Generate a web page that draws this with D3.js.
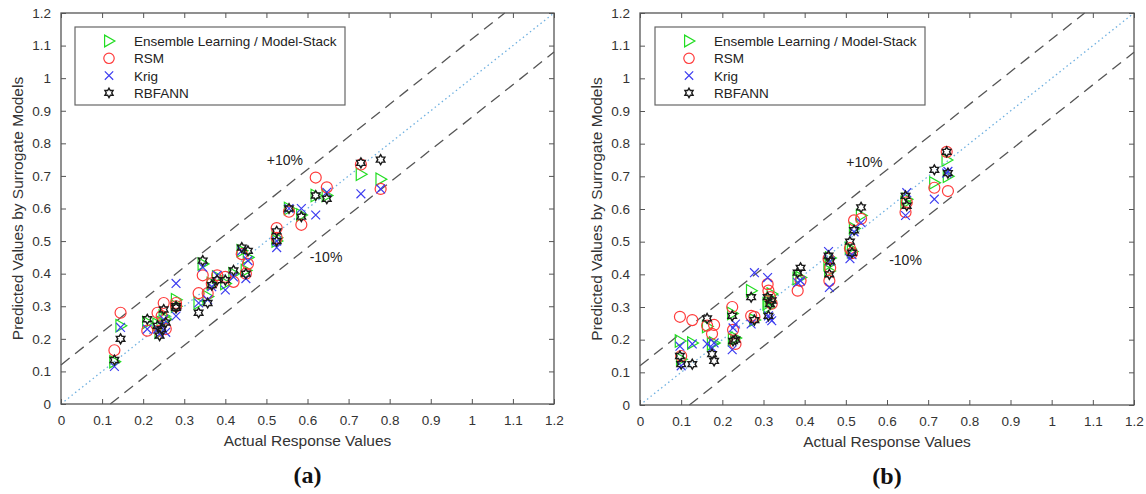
<!DOCTYPE html>
<html>
<head>
<meta charset="utf-8">
<script src="https://cdn.jsdelivr.net/npm/d3@7"></script>
<style>
  html, body { margin: 0; padding: 0; background: #fff; }
  svg { display: block; }
  text { font-family: "Liberation Sans", Arial, sans-serif; }
  text.panel-label { font-family: "Liberation Serif", "Times New Roman", serif; font-weight: bold; }
</style>
</head>
<body>
<svg id="chart" width="1146" height="494"></svg>
<script>
// ---- data: actual response values and predictions of each surrogate model ----
const actualA = [0.13, 0.145, 0.21, 0.235, 0.24, 0.245, 0.25, 0.255, 0.28, 0.28,
  0.335, 0.345, 0.357, 0.367, 0.38, 0.40, 0.42, 0.44, 0.45, 0.455,
  0.525, 0.525, 0.555, 0.585, 0.62, 0.647, 0.73, 0.778];
const ensembleA = [0.13, 0.24, 0.25, 0.245, 0.22, 0.25, 0.27, 0.26, 0.32, 0.30,
  0.31, 0.43, 0.33, 0.37, 0.39, 0.37, 0.40, 0.47, 0.41, 0.45,
  0.51, 0.50, 0.60, 0.58, 0.64, 0.64, 0.705, 0.69];
const rsmA = [0.165, 0.28, 0.225, 0.28, 0.225, 0.27, 0.31, 0.23, 0.31, 0.30,
  0.34, 0.395, 0.34, 0.37, 0.395, 0.39, 0.375, 0.46, 0.40, 0.43,
  0.54, 0.51, 0.59, 0.55, 0.695, 0.665, 0.735, 0.66];
const krigA = [0.115, 0.235, 0.23, 0.23, 0.215, 0.24, 0.26, 0.22, 0.37, 0.27,
  0.31, 0.42, 0.32, 0.36, 0.395, 0.35, 0.39, 0.47, 0.385, 0.44,
  0.48, 0.50, 0.60, 0.60, 0.58, 0.65, 0.645, 0.66];
const rbfA = [0.135, 0.20, 0.26, 0.24, 0.21, 0.23, 0.29, 0.25, 0.295, 0.30,
  0.28, 0.44, 0.31, 0.365, 0.38, 0.38, 0.41, 0.48, 0.40, 0.47,
  0.53, 0.50, 0.60, 0.575, 0.64, 0.63, 0.74, 0.75];

const actualB = [0.097, 0.10, 0.127, 0.163, 0.175, 0.18, 0.224, 0.226, 0.232, 0.27,
  0.278, 0.31, 0.312, 0.316, 0.32, 0.383, 0.39, 0.458, 0.46, 0.462,
  0.51, 0.515, 0.52, 0.537, 0.645, 0.648, 0.715, 0.745, 0.748];
const ensembleB = [0.196, 0.14, 0.19, 0.24, 0.187, 0.19, 0.28, 0.20, 0.205, 0.35,
  0.26, 0.31, 0.30, 0.32, 0.34, 0.387, 0.39, 0.43, 0.41, 0.45,
  0.48, 0.47, 0.54, 0.58, 0.62, 0.63, 0.68, 0.75, 0.70];
const rsmB = [0.27, 0.15, 0.26, 0.243, 0.218, 0.245, 0.30, 0.23, 0.187, 0.273,
  0.27, 0.37, 0.35, 0.33, 0.31, 0.35, 0.38, 0.448, 0.38, 0.42,
  0.48, 0.465, 0.565, 0.57, 0.59, 0.62, 0.665, 0.775, 0.655];
const krigB = [0.18, 0.12, 0.187, 0.187, 0.175, 0.19, 0.169, 0.236, 0.248, 0.248,
  0.405, 0.39, 0.273, 0.264, 0.258, 0.375, 0.38, 0.47, 0.36, 0.44,
  0.448, 0.46, 0.53, 0.558, 0.58, 0.65, 0.63, 0.71, 0.715];
const rbfB = [0.15, 0.125, 0.125, 0.265, 0.156, 0.135, 0.273, 0.196, 0.20, 0.33,
  0.26, 0.33, 0.273, 0.309, 0.32, 0.405, 0.42, 0.457, 0.40, 0.44,
  0.50, 0.466, 0.535, 0.605, 0.64, 0.61, 0.72, 0.775, 0.71];

const seriesNames = ["Ensemble Learning / Model-Stack", "RSM", "Krig", "RBFANN"];
const seriesColors = ["#22dd22", "#ff3b3b", "#3c3cf0", "#1a1a1a"];
const tickValues = [0, 0.1, 0.2, 0.3, 0.4, 0.5, 0.6, 0.7, 0.8, 0.9, 1, 1.1, 1.2];
const bandOffset = 0.12;   // +/-10 % of the axis range
const panelLabels = ["(a)", "(b)"];

// ---- custom symbols ----
const triangleRight = {
  draw(ctx, size) {
    const r = Math.sqrt(size) * 0.62;
    ctx.moveTo(r, 0);
    ctx.lineTo(-r * 0.75, -r);
    ctx.lineTo(-r * 0.75, r);
    ctx.closePath();
  }
};
const hexagram = {
  draw(ctx, size) {
    const R = Math.sqrt(size) * 0.55, r = R / Math.sqrt(3);
    for (let i = 0; i < 12; i++) {
      const a = -Math.PI / 2 + i * Math.PI / 6;
      const rr = i % 2 === 0 ? R : r;
      const x = rr * Math.cos(a), y = rr * Math.sin(a);
      if (i === 0) ctx.moveTo(x, y); else ctx.lineTo(x, y);
    }
    ctx.closePath();
  }
};
const cross = {
  draw(ctx, size) {
    const r = Math.sqrt(size) * 0.42;
    ctx.moveTo(-r, -r); ctx.lineTo(r, r);
    ctx.moveTo(-r, r); ctx.lineTo(r, -r);
  }
};
const symbolTypes = [triangleRight, d3.symbolCircle, cross, hexagram];
const symbolSizes = [100, 95, 110, 80];
const symbolStroke = [1.2, 1.2, 1.2, 1.4];

const svg = d3.select("#chart");

function drawPanel(opts) {
  const { left, top, width, height, actual, preds, legendX, plusPos, minusPos, label } = opts;
  const g = svg.append("g").attr("transform", `translate(${left},${top})`);
  const x = d3.scaleLinear().domain([0, 1.2]).range([0, width]);
  const y = d3.scaleLinear().domain([0, 1.2]).range([height, 0]);

  // reference lines
  const lineGen = d3.line().x(d => x(d[0])).y(d => y(d[1]));
  g.append("path")
    .attr("d", lineGen([[0, 0], [1.2, 1.2]]))
    .attr("fill", "none").attr("stroke", "#6fb0e0").attr("stroke-width", 1.3)
    .attr("stroke-dasharray", "1.5,3");
  g.append("path")
    .attr("d", lineGen([[0, bandOffset], [1.2 - bandOffset, 1.2]]))
    .attr("fill", "none").attr("stroke", "#555").attr("stroke-width", 1.3)
    .attr("stroke-dasharray", "11,7");
  g.append("path")
    .attr("d", lineGen([[bandOffset, 0], [1.2, 1.2 - bandOffset]]))
    .attr("fill", "none").attr("stroke", "#555").attr("stroke-width", 1.3)
    .attr("stroke-dasharray", "11,7");

  g.append("text").attr("x", x(plusPos[0])).attr("y", y(plusPos[1]))
    .attr("font-size", 14).attr("fill", "#222").attr("text-anchor", "middle").text("+10%");
  g.append("text").attr("x", x(minusPos[0])).attr("y", y(minusPos[1]))
    .attr("font-size", 14).attr("fill", "#222").attr("text-anchor", "middle").text("-10%");

  // scatter markers
  preds.forEach((vals, si) => {
    const sym = d3.symbol().type(symbolTypes[si]).size(symbolSizes[si]);
    g.append("g").selectAll("path")
      .data(vals.map((v, i) => [actual[i], v]))
      .join("path")
      .attr("transform", d => `translate(${x(d[0])},${y(d[1])})`)
      .attr("d", sym)
      .attr("fill", "none")
      .attr("stroke", seriesColors[si])
      .attr("stroke-width", symbolStroke[si]);
  });

  // axes with inward ticks on all four sides
  const tickStyle = sel => {
    sel.select(".domain").remove();
    sel.selectAll(".tick line").attr("stroke", "#555");
    sel.selectAll(".tick text").attr("fill", "#333").attr("font-size", 13.5);
  };
  g.append("g").attr("transform", `translate(0,${height})`)
    .call(d3.axisBottom(x).tickValues(tickValues).tickFormat(d3.format("~g"))
      .tickSizeInner(-5).tickSizeOuter(0).tickPadding(11))
    .call(tickStyle);
  g.append("g")
    .call(d3.axisLeft(y).tickValues(tickValues).tickFormat(d3.format("~g"))
      .tickSizeInner(-5).tickSizeOuter(0).tickPadding(10))
    .call(tickStyle);
  g.append("g")
    .call(d3.axisTop(x).tickValues(tickValues).tickFormat("").tickSizeInner(-5).tickSizeOuter(0))
    .call(tickStyle);
  g.append("g").attr("transform", `translate(${width},0)`)
    .call(d3.axisRight(y).tickValues(tickValues).tickFormat("").tickSizeInner(-5).tickSizeOuter(0))
    .call(tickStyle);
  g.append("rect").attr("width", width).attr("height", height)
    .attr("fill", "none").attr("stroke", "#555").attr("stroke-width", 1.3);

  // axis titles
  g.append("text").attr("x", width / 2).attr("y", height + 42)
    .attr("text-anchor", "middle").attr("font-size", 15.5).attr("fill", "#333")
    .text("Actual Response Values");
  g.append("text")
    .attr("transform", `translate(-38,${height / 2}) rotate(-90)`)
    .attr("text-anchor", "middle").attr("font-size", 15.5).attr("fill", "#333")
    .text("Predicted Values by Surrogate Models");

  // panel label
  g.append("text").attr("class", "panel-label")
    .attr("x", width / 2).attr("y", height + 79)
    .attr("text-anchor", "middle").attr("font-size", 24).attr("fill", "#111")
    .text(label);

  // legend
  const lg = g.append("g").attr("transform", `translate(${legendX},14)`);
  lg.append("rect").attr("width", 270).attr("height", 78)
    .attr("fill", "#fff").attr("stroke", "#666").attr("stroke-width", 1.2);
  seriesNames.forEach((name, i) => {
    const row = lg.append("g").attr("transform", `translate(0,${14 + i * 17.3})`);
    row.append("path").attr("transform", "translate(34,0)")
      .attr("d", d3.symbol().type(symbolTypes[i]).size(symbolSizes[i] * 0.9)())
      .attr("fill", "none").attr("stroke", seriesColors[i]).attr("stroke-width", symbolStroke[i]);
    row.append("text").attr("x", 59).attr("y", 5).attr("font-size", 13.5)
      .attr("fill", "#222").text(name);
  });
}

drawPanel({
  left: 61, top: 13, width: 493, height: 391,
  actual: actualA, preds: [ensembleA, rsmA, krigA, rbfA],
  legendX: 14, plusPos: [0.545, 0.735], minusPos: [0.645, 0.435], label: panelLabels[0]
});
drawPanel({
  left: 640, top: 13, width: 494, height: 392,
  actual: actualB, preds: [ensembleB, rsmB, krigB, rbfB],
  legendX: 15, plusPos: [0.545, 0.73], minusPos: [0.645, 0.43], label: panelLabels[1]
});
</script>
</body>
</html>
